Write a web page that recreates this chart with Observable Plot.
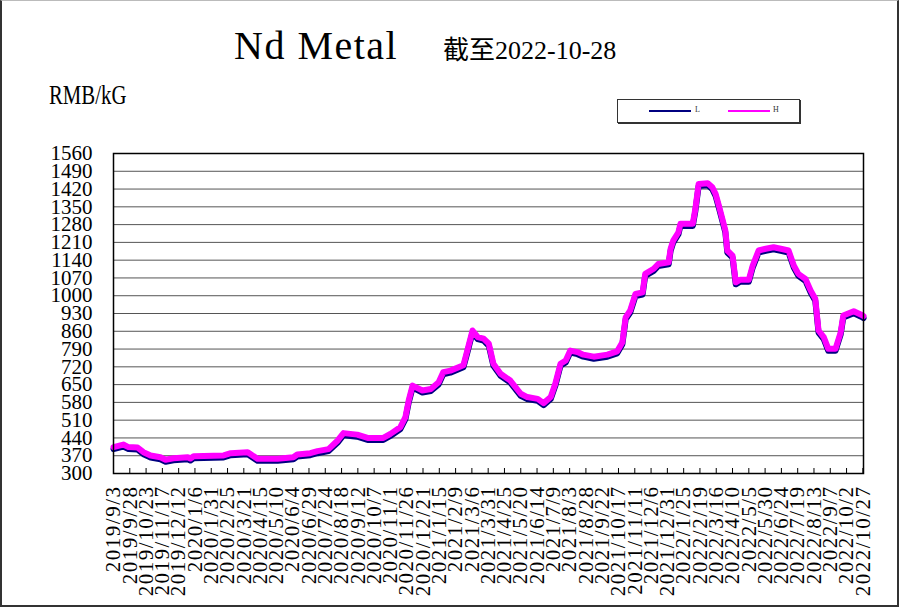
<!DOCTYPE html>
<html>
<head>
<meta charset="utf-8">
<script src="https://cdn.jsdelivr.net/npm/d3@7"></script>
<script src="https://cdn.jsdelivr.net/npm/@observablehq/plot@0.6"></script>
<style>
  html, body { margin: 0; padding: 0; background: #fff; }
  #wrap { position: relative; width: 900px; height: 609px; overflow: hidden; background: #fff; }
  #border { position: absolute; left: 0; top: 0; width: 895px; height: 604px;
    border-left: 2px solid #333; border-right: 2px solid #333; border-bottom: 2px solid #333; border-top: 1px solid #bbb; }
  #chart { position: absolute; left: 0; top: 0; }
  .title { position: absolute; left: 234px; top: 26px; font: 40px/40px "Liberation Serif", serif; letter-spacing: 1.5px; color: #000; white-space: nowrap; }
  .subtitle { position: absolute; left: 443px; top: 38px; font: 26px/26px "Liberation Serif", "Noto Sans CJK SC", serif; color: #000; white-space: nowrap; }
  .ylabel { position: absolute; left: 49px; top: 82px; font: 27px/27px "Liberation Serif", serif; color: #000;
    transform: scaleX(0.77); transform-origin: 0 0; white-space: nowrap; }
  .legend { position: absolute; left: 617px; top: 99px; width: 181px; height: 22px; border: 1px solid #333;
    box-shadow: 1px 1px 0 #333; background: #fff; }
  .legend .ln { position: absolute; top: 10px; height: 2px; width: 42px; }
  .legend .lb { position: absolute; top: 5px; font: 8px/10px "Liberation Serif", serif; color: #333; }
  g[aria-label="x-axis tick label"] { letter-spacing: 1.5px; }
</style>
</head>
<body>
<div id="wrap">
  <div id="chart"></div>
  <div id="border"></div>
  <div class="title">Nd Metal</div>
  <div class="subtitle">截至2022-10-28</div>
  <div class="ylabel">RMB/kG</div>
  <div class="legend">
    <div class="ln" style="left:31px;background:#000080"></div><div class="lb" style="left:77px">L</div>
    <div class="ln" style="left:110px;background:#ff00ff"></div><div class="lb" style="left:155px">H</div>
  </div>
</div>
<script>
const dates = ["2019-09-03","2019-09-18","2019-09-26","2019-10-10","2019-10-19","2019-10-30","2019-11-14","2019-11-22","2019-12-04","2019-12-26",
"2019-12-30","2020-01-04","2020-02-19","2020-03-01","2020-03-27","2020-03-31","2020-04-11","2020-05-12","2020-06-05","2020-06-11",
"2020-07-01","2020-07-12","2020-07-29","2020-08-12","2020-08-21","2020-09-11","2020-09-27","2020-10-21","2020-11-01","2020-11-16",
"2020-11-24","2020-11-29","2020-12-05","2020-12-20","2021-01-02","2021-01-14","2021-01-21","2021-02-01","2021-02-21","2021-02-27",
"2021-03-07","2021-03-15","2021-03-24","2021-04-01","2021-04-08","2021-04-19","2021-05-04","2021-05-20","2021-05-30","2021-06-15",
"2021-06-24","2021-07-05","2021-07-12","2021-07-20","2021-07-28","2021-08-04","2021-08-15","2021-08-24","2021-09-09","2021-09-30",
"2021-10-15","2021-10-23","2021-10-28","2021-11-04","2021-11-12","2021-11-23","2021-11-27","2021-12-10","2021-12-17","2022-01-02",
"2022-01-05","2022-01-09","2022-01-17","2022-01-20","2022-02-08","2022-02-12","2022-02-17","2022-03-03","2022-03-10","2022-03-15",
"2022-03-20","2022-03-26","2022-03-30","2022-04-02","2022-04-10","2022-04-15","2022-04-22","2022-05-05","2022-05-11","2022-05-20",
"2022-05-31","2022-06-12","2022-06-23","2022-07-05","2022-07-13","2022-07-20","2022-07-31","2022-08-08","2022-08-15","2022-08-20",
"2022-08-28","2022-09-04","2022-09-15","2022-09-23","2022-09-27","2022-10-13","2022-10-27","2022-10-28"];

const H = [404,414,404,402,384,371,364,354,360,364,
359,368,371,380,384,377,358,358,364,375,
380,388,396,430,459,453,440,440,456,482,
522,587,646,627,633,659,699,705,726,784,
863,837,831,811,732,693,666,614,601,594,
577,601,653,732,745,784,778,768,760,768,
781,817,915,942,1007,1013,1086,1106,1125,1132,
1185,1217,1250,1283,1283,1342,1440,1443,1427,1401,
1355,1296,1257,1178,1158,1053,1063,1063,1119,1178,
1185,1191,1185,1178,1119,1086,1066,1020,988,863,
837,791,791,856,922,939,922,920];

const L = [396,406,396,394,376,363,356,346,352,356,
351,360,363,372,376,369,350,350,356,367,
372,380,388,422,451,445,432,432,448,474,
514,579,638,619,625,651,691,697,718,776,
855,829,823,803,724,685,658,606,593,586,
569,593,645,724,737,776,770,760,752,760,
773,809,907,934,999,1005,1078,1098,1117,1124,
1177,1209,1242,1275,1275,1334,1432,1435,1419,1393,
1347,1288,1249,1170,1150,1045,1055,1055,1111,1170,
1177,1183,1177,1170,1111,1078,1058,1012,980,855,
829,783,783,848,914,931,914,912];

const yTicks = [300,370,440,510,580,650,720,790,860,930,1000,1070,1140,1210,1280,1350,1420,1490,1560];

const xTickLabels = ["2019/9/3","2019/9/28","2019/10/23","2019/11/17","2019/12/12","2020/1/6","2020/1/31","2020/2/25","2020/3/21","2020/4/15",
"2020/5/10","2020/6/4","2020/6/29","2020/7/24","2020/8/18","2020/9/12","2020/10/7","2020/11/1","2020/11/26","2020/12/21",
"2021/1/15","2021/2/9","2021/3/6","2021/3/31","2021/4/25","2021/5/20","2021/6/14","2021/7/9","2021/8/3","2021/8/28",
"2021/9/22","2021/10/17","2021/11/11","2021/12/6","2021/12/31","2022/1/25","2022/2/19","2022/3/16","2022/4/10","2022/5/5",
"2022/5/30","2022/6/24","2022/7/19","2022/8/13","2022/9/7","2022/10/2","2022/10/27"];

const parseSlash = s => { const [y, m, d] = s.split("/").map(Number); return new Date(Date.UTC(y, m - 1, d)); };
const xTickDates = xTickLabels.map(parseSlash);
const fmt = d => `${d.getUTCFullYear()}/${d.getUTCMonth() + 1}/${d.getUTCDate()}`;

const data = dates.map((d, i) => ({date: new Date(d + "T00:00:00Z"), H: H[i], L: L[i]}));

const chart = Plot.plot({
  width: 900,
  height: 609,
  marginLeft: 113,
  marginRight: 37,
  marginTop: 153,
  marginBottom: 136,
  style: {background: "transparent", overflow: "visible", color: "#000"},
  x: {type: "utc", domain: [new Date("2019-09-03T00:00:00Z"), new Date("2022-10-28T00:00:00Z")]},
  y: {domain: [300, 1560]},
  marks: [
    Plot.gridY(yTicks, {stroke: "#555", strokeOpacity: 1, strokeWidth: 1}),
    Plot.axisY(yTicks, {tickSize: 0, tickPadding: 21, tickFormat: d => String(d), fontSize: 21, fontFamily: "Liberation Serif", label: null}),
    Plot.axisX(xTickDates, {tickSize: 0, tickPadding: 12, tickRotate: -90, tickFormat: fmt, fontSize: 21, fontFamily: "Liberation Serif", label: null}),
    Plot.ruleX(xTickDates, {insetTop: 315, stroke: "#000", strokeWidth: 1}),
    Plot.line(data, {x: "date", y: "L", stroke: "#000080", strokeWidth: 6}),
    Plot.line(data, {x: "date", y: "H", stroke: "#ff00ff", strokeWidth: 6}),
    Plot.frame({stroke: "#000", strokeWidth: 1.5})
  ]
});
document.getElementById("chart").appendChild(chart);
</script>
</body>
</html>
